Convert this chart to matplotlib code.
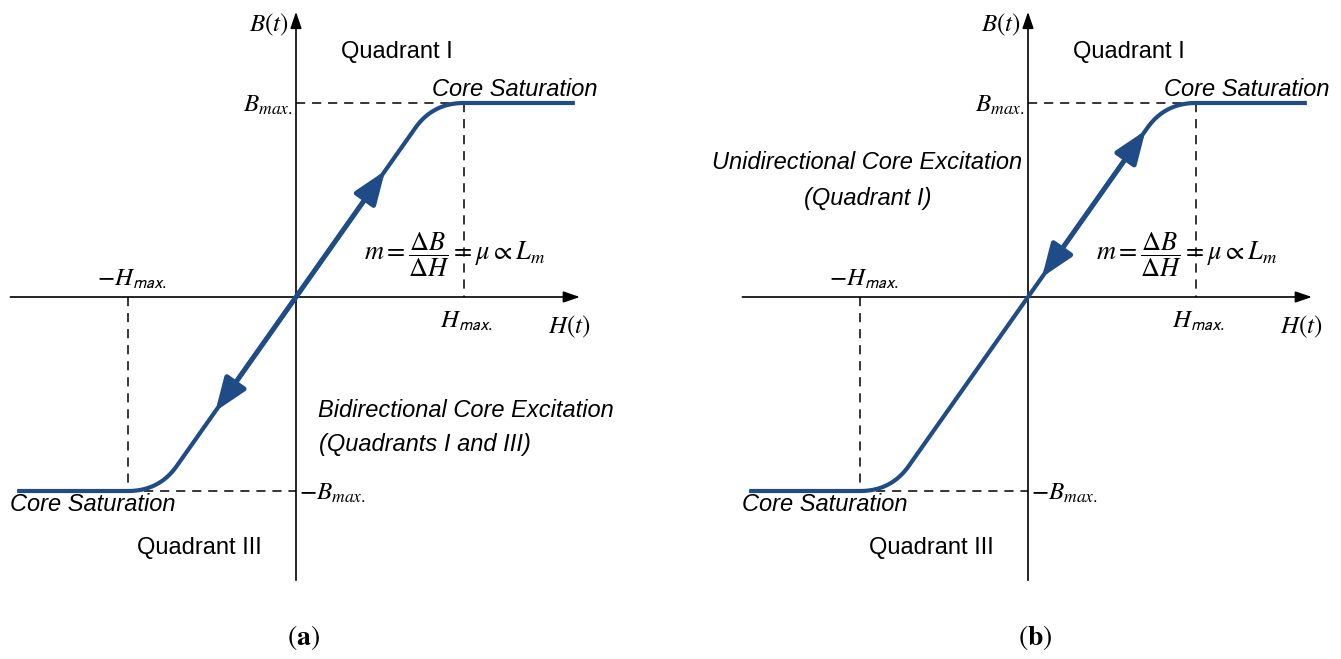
import numpy as np
import matplotlib
matplotlib.use("Agg")
import matplotlib.pyplot as plt
from matplotlib.patches import FancyArrowPatch

plt.rcParams["mathtext.fontset"] = "stix"
plt.rcParams["font.family"] = ["Liberation Sans", "DejaVu Sans"]

# normalised B-H characteristic (H and B in units of H_max / B_max)
H_MAX = 1.0
B_MAX = 1.0
H_LIN = 0.815          # where the linear part would reach B_MAX
H_KNEE = 0.71          # start of the rounded knee
H_END = 1.66           # end of the drawn saturation plateau
H_AXIS = (-1.70, 1.69)
B_AXIS = (-1.46, 1.47)

# arrowed (excited) part of the curve for each panel: (H_from, H_to)
excited = {"a": (-0.48, 0.53), "b": (0.083, 0.70)}
panel_tags = ["a", "b"]
excitation_text = {
    "a": ["Bidirectional Core Excitation", "(Quadrants I and III)"],
    "b": ["Unidirectional Core Excitation", "(Quadrant I)"],
}

CURVE = "#1F4B87"
W, H = 1341, 659
PX_H, PX_B = 168.0, 194.0     # pixels per unit H / B


def bh_curve():
    """Linear region with rounded knees into flat saturation at +/-B_MAX."""
    k = B_MAX / H_LIN
    t = np.linspace(0, 1, 40)
    p0 = np.array([H_KNEE, k * H_KNEE])
    p1 = np.array([H_LIN, B_MAX])
    p2 = np.array([H_MAX, B_MAX])
    knee = ((1 - t) ** 2)[:, None] * p0 + (2 * (1 - t) * t)[:, None] * p1 + (t ** 2)[:, None] * p2
    up = np.vstack([knee, [[H_END, B_MAX]]])
    lin = np.array([[-H_KNEE, -k * H_KNEE], [H_KNEE, k * H_KNEE]])
    down = -up[::-1]
    pts = np.vstack([down, lin, up])
    return pts[:, 0], pts[:, 1]


def draw_panel(ax, tag):
    k = B_MAX / H_LIN
    ax.set_axis_off()

    # axes with arrow heads
    axis_arrow = dict(arrowstyle="-|>,head_length=0.5,head_width=0.17",
                      mutation_scale=20, lw=1.2, color="black",
                      shrinkA=0, shrinkB=0)
    ax.annotate("", xy=(H_AXIS[1], 0), xytext=(H_AXIS[0], 0), arrowprops=axis_arrow)
    ax.annotate("", xy=(0, B_AXIS[1]), xytext=(0, B_AXIS[0]), arrowprops=axis_arrow)

    # dashed guides to the saturation corners
    dash = dict(color="black", lw=1.1, dashes=(6, 4.5))
    ax.plot([0, H_MAX], [B_MAX, B_MAX], **dash)
    ax.plot([H_MAX, H_MAX], [B_MAX, 0], **dash)
    ax.plot([-H_MAX, 0], [-B_MAX, -B_MAX], **dash)
    ax.plot([-H_MAX, -H_MAX], [0, -B_MAX], **dash)

    hx, by = bh_curve()
    ax.plot(hx, by, color=CURVE, lw=3.0, solid_capstyle="butt", zorder=3)

    h0, h1 = excited[tag]
    arr = FancyArrowPatch((h0, k * h0), (h1, k * h1),
                          arrowstyle="<|-|>,head_length=1.0,head_width=0.38",
                          mutation_scale=20, lw=3.6, color=CURVE,
                          shrinkA=0, shrinkB=0, zorder=4)
    ax.add_patch(arr)

    def px(x, y):
        return x / PX_H, -y / PX_B

    serif = dict(fontsize=18, color="black")
    sans = dict(fontsize=17, color="black")

    ax.text(*px(-7, -272), r"$B\left(t\right)$", ha="right", va="center", **serif)
    ax.text(*px(45, -245), "Quadrant I", ha="left", va="center", **sans)
    ax.text(*px(136, -207), "Core Saturation", ha="left", va="center",
            style="italic", **sans)
    ax.text(*px(-3, -192), r"$B_{max.}$", ha="right", va="center", **serif)
    ax.text(*px(159, -42), r"$m=\dfrac{\Delta B}{\Delta H}=\mu\propto L_m$",
            ha="center", va="center", fontsize=19, color="black")
    ax.text(*px(144, 24), r"$H_{\mathsf{max.}}$", ha="left", va="center", **serif)
    ax.text(*px(252, 30), r"$H\left(t\right)$", ha="left", va="center", **serif)
    ax.text(*px(-199, -18), r"$-H_{\mathsf{max.}}$", ha="left", va="center", **serif)
    ax.text(*px(3, 196), r"$-B_{max.}$", ha="left", va="center", **serif)
    ax.text(*px(-286, 208), "Core Saturation", ha="left", va="center",
            style="italic", **sans)
    ax.text(*px(-159, 251), "Quadrant III", ha="left", va="center", **sans)

    l1, l2 = excitation_text[tag]
    if tag == "a":
        ax.text(*px(170, 114), l1, ha="center", va="center", style="italic", **sans)
        ax.text(*px(129, 148), l2, ha="center", va="center", style="italic", **sans)
    else:
        ax.text(*px(-161, -134), l1, ha="center", va="center", style="italic", **sans)
        ax.text(*px(-160, -98), l2, ha="center", va="center", style="italic", **sans)

    ax.text(*px(7, 341), r"$(\mathbf{%s})$" % tag, ha="center", va="center",
            fontsize=20, color="black")


fig = plt.figure(figsize=(W / 100, H / 100), dpi=100)
fig.patch.set_facecolor("white")

origins = {"a": 296, "b": 1028}
for tag in panel_tags:
    ox = origins[tag]
    left, right = ox - 296, min(ox + 344, W)
    ax = fig.add_axes([left / W, 0, (right - left) / W, 1])
    ax.set_xlim(-296 / PX_H, (right - ox) / PX_H)
    ax.set_ylim((297 - H) / PX_B, 297 / PX_B)
    draw_panel(ax, tag)

fig.savefig("out.png", dpi=100, facecolor="white")
